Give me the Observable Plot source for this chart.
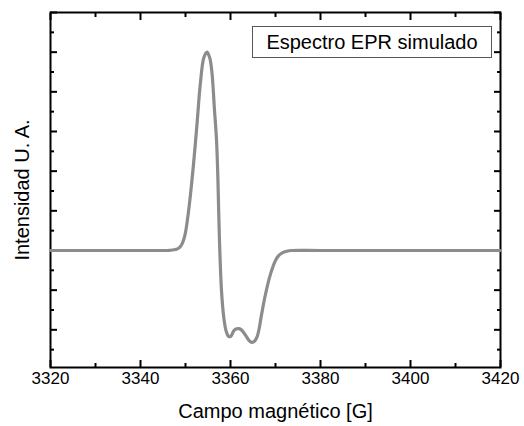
<!DOCTYPE html>
<html>
<head>
<meta charset="utf-8">
<script src="https://cdn.jsdelivr.net/npm/d3@7"></script>
<script src="https://cdn.jsdelivr.net/npm/@observablehq/plot@0.6"></script>
<style>
  html, body { margin: 0; padding: 0; background: #fff; }
  #wrap { position: relative; width: 524px; height: 426px; }
  #legend {
    position: absolute; left: 252px; top: 26px; width: 238px; height: 30px;
    border: 1px solid #555; box-sizing: content-box;
    font-family: "Liberation Sans", Arial, sans-serif; font-size: 20px;
    line-height: 30px; text-align: center; color: #000; background: #fff;
  }
</style>
</head>
<body>
<div id="wrap"><div id="legend">Espectro EPR simulado</div></div>
<script>
// Magnetic field [G]
const fieldG = [3320, 3335, 3344, 3346.5, 3348.0, 3348.7, 3349.3, 3349.9, 3350.4, 3350.9, 3351.8, 3352.6, 3353.3, 3354.1, 3354.8,
  3355.4, 3355.9, 3356.4, 3356.9, 3357.2, 3357.55, 3358.0, 3358.5, 3359.0, 3359.6, 3360.1, 3360.7, 3361.2, 3361.8,
  3362.3, 3363.0, 3363.7, 3364.3, 3364.8, 3365.4, 3365.9, 3366.4, 3366.8, 3367.8, 3368.9, 3370.0, 3370.7, 3371.5,
  3372.5, 3373.5, 3380, 3400, 3420];
// Simulated EPR intensity (arbitrary units)
const intensity = [0, 0, 0, 0.005, 0.03, 0.08, 0.18, 0.40, 0.75, 1.2, 2.2, 3.25, 4.21, 4.87, 5.0,
  4.85, 4.46, 3.61, 2.77, 1.8, 0.25, -1.01, -1.68, -2.02, -2.17, -2.16, -2.03, -1.98, -1.97,
  -1.99, -2.08, -2.2, -2.29, -2.32, -2.28, -2.18, -1.95, -1.68, -1.09, -0.59, -0.25, -0.13, -0.06,
  -0.02, 0, 0, 0, 0];
const xMajorTicks = [3320, 3340, 3360, 3380, 3400, 3420];
const xMinorTicks = [3330, 3350, 3370, 3390, 3410];
const yMajorTicks = [-2, -1, 0, 1, 2, 3, 4, 5, 6];
const yMinorTicks = [-2.5, -1.5, -0.5, 0.5, 1.5, 2.5, 3.5, 4.5, 5.5];

const data = fieldG.map((g, i) => ({g, v: intensity[i]}));

const chart = Plot.plot({
  width: 524,
  height: 426,
  marginLeft: 50,
  marginRight: 24,
  marginTop: 12,
  marginBottom: 59,
  style: {fontFamily: "Liberation Sans, Arial, sans-serif", fontSize: "17px", color: "#000", background: "#fff"},
  x: {domain: [3320, 3420], axis: null},
  y: {domain: [-2.95, 6], axis: null},
  marks: [
    Plot.axisX({anchor: "bottom", ticks: xMajorTicks, tickSize: -7, tickPadding: 11, strokeWidth: 2, label: null, fontSize: 17, tickFormat: d3.format("d")}),
    Plot.axisX({anchor: "bottom", ticks: xMinorTicks, tickSize: -4, fill: "none", strokeWidth: 2, label: null}),
    Plot.axisX({anchor: "top", ticks: xMajorTicks, tickSize: -7, fill: "none", strokeWidth: 2, label: null}),
    Plot.axisX({anchor: "top", ticks: xMinorTicks, tickSize: -4, fill: "none", strokeWidth: 2, label: null}),
    Plot.axisY({anchor: "left", ticks: yMajorTicks, tickSize: -7, fill: "none", strokeWidth: 2, label: null}),
    Plot.axisY({anchor: "left", ticks: yMinorTicks, tickSize: -4, fill: "none", strokeWidth: 2, label: null}),
    Plot.axisY({anchor: "right", ticks: yMajorTicks, tickSize: -7, fill: "none", strokeWidth: 2, label: null}),
    Plot.axisY({anchor: "right", ticks: yMinorTicks, tickSize: -4, fill: "none", strokeWidth: 2, label: null}),
    Plot.frame({stroke: "#000", strokeWidth: 2}),
    Plot.line(data, {x: "g", y: "v", stroke: "#8c8c8c", strokeWidth: 3.2, curve: "catmull-rom"}),
    Plot.text(["Intensidad U. A."], {frameAnchor: "left", text: d => d, rotate: -90, dx: -28, fontSize: 20, lineAnchor: "middle", textAnchor: "middle"}),
    Plot.text(["Campo magnético [G]"], {frameAnchor: "bottom", text: d => d, dy: 44, fontSize: 20, lineAnchor: "middle", textAnchor: "middle"})
  ]
});
document.getElementById("wrap").prepend(chart);
</script>
</body>
</html>
